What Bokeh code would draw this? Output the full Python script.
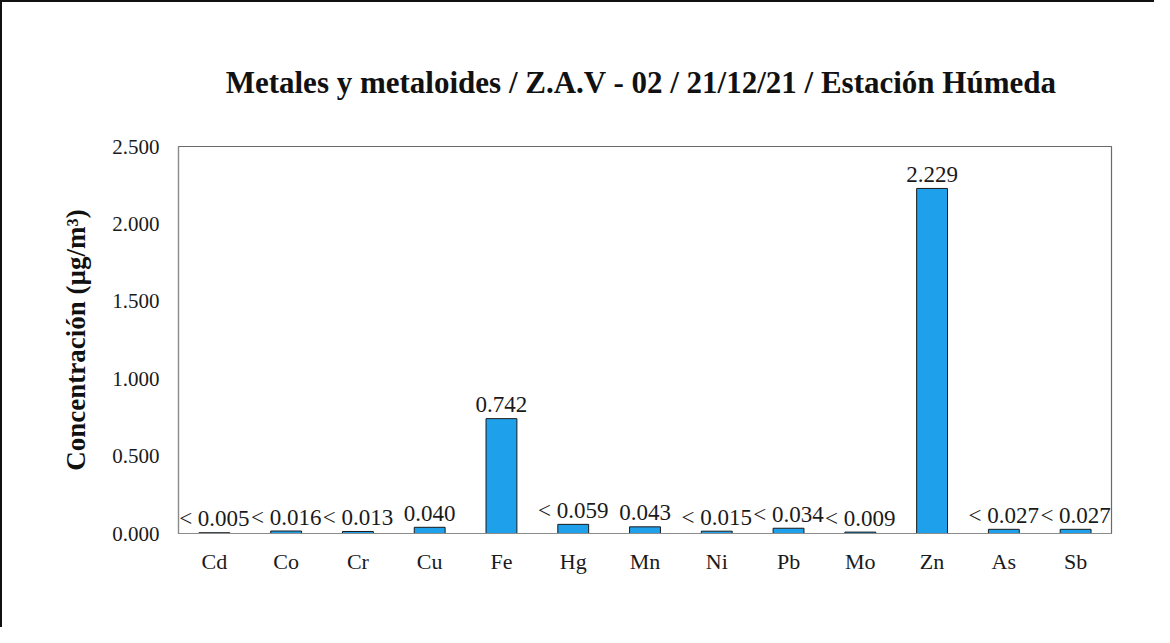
from bokeh.plotting import figure
from bokeh.models import ColumnDataSource, FixedTicker, NumeralTickFormatter, Range1d, FactorRange
from bokeh.core.properties import value
from bokeh.embed import file_html
from bokeh.resources import INLINE

elements = ["Cd", "Co", "Cr", "Cu", "Fe", "Hg", "Mn", "Ni", "Pb", "Mo", "Zn", "As", "Sb"]
concentrations = [0.005, 0.016, 0.013, 0.040, 0.742, 0.059, 0.043, 0.015, 0.034, 0.009, 2.229, 0.027, 0.027]
value_labels = ["< 0.005", "< 0.016", "< 0.013", "0.040", "0.742", "< 0.059", "0.043",
                "< 0.015", "< 0.034", "< 0.009", "2.229", "< 0.027", "< 0.027"]
y_ticks = [0.0, 0.5, 1.0, 1.5, 2.0, 2.5]
title_text = "Metales y metaloides / Z.A.V  - 02 / 21/12/21 / Estación Húmeda"
y_label = "Concentración (µg/m³)"

FONT = "Liberation Serif"

src = ColumnDataSource(dict(x=elements, y=concentrations, lab=value_labels))

p = figure(x_range=FactorRange(*elements, range_padding=0), y_range=Range1d(0, 2.5),
           width=1154, height=627, output_backend="svg", toolbar_location=None,
           min_border_left=176, min_border_right=45, min_border_top=144, min_border_bottom=96)
p.styles = {"border-left": "2px solid #111111", "border-top": "2px solid #111111"}

p.title.text = title_text
p.title.align = "center"
p.title.text_font = FONT
p.title.text_font_size = "31px"
p.title.text_font_style = "bold"
p.title.text_color = "#111111"
p.title.standoff = 93
p.title.offset = 6

p.vbar(x="x", top="y", width=0.43, source=src, fill_color="#1FA0EA",
       line_color="#1a1a1a", line_width=1)
p.text(x="x", y="y", text="lab", source=src, text_align="center", text_baseline="alphabetic",
       y_offset=-14, text_font=value(FONT), text_font_size="23px", text_color="#1a1a1a")

p.xgrid.visible = False
p.ygrid.visible = False
p.outline_line_color = "#6a6a6a"
p.outline_line_width = 1.2

p.yaxis.ticker = FixedTicker(ticks=y_ticks)
p.yaxis.formatter = NumeralTickFormatter(format="0.000")
for ax in (p.xaxis[0], p.yaxis[0]):
    ax.major_tick_in = 0
    ax.major_tick_out = 0
    ax.minor_tick_in = 0
    ax.minor_tick_out = 0
    ax.axis_line_color = "#8c8c8c"
    ax.axis_line_width = 1.2
    ax.major_label_text_font = FONT
    ax.major_label_text_color = "#1a1a1a"

p.yaxis.major_label_text_font_size = "21px"
p.yaxis.major_label_standoff = 19
p.xaxis.major_label_text_font_size = "22px"
p.xaxis.major_label_standoff = 15

p.yaxis.axis_label = y_label
p.yaxis.axis_label_text_font = FONT
p.yaxis.axis_label_text_font_size = "27px"
p.yaxis.axis_label_text_font_style = "bold"
p.yaxis.axis_label_text_color = "#111111"
p.yaxis.axis_label_standoff = 18

open("out.html", "w").write(file_html(p, INLINE))
